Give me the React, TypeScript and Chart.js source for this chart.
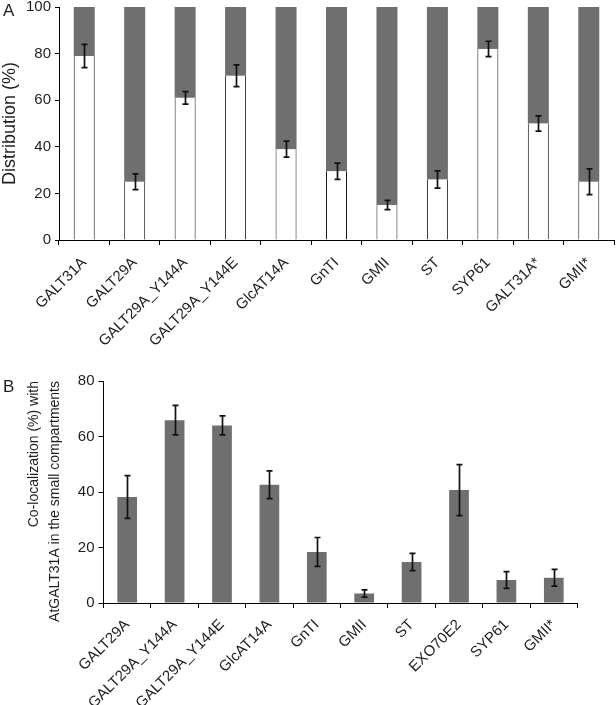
import React, { useEffect, useRef } from 'react';
import { Chart, registerables } from 'chart.js';

Chart.register(...registerables);

// ---------- Panel A data ----------
const catsA = ['GALT31A', 'GALT29A', 'GALT29A_Y144A', 'GALT29A_Y144E', 'GlcAT14A', 'GnTI', 'GMII', 'ST', 'SYP61', 'GALT31A*', 'GMII*'];
const whiteA = [79, 25, 61, 70.5, 39, 29.5, 15, 26, 82, 50, 25];
const grayA = [21, 75, 39, 29.5, 61, 70.5, 85, 74, 18, 50, 75];
const errA = [5, 3.4, 2.7, 4.7, 3.4, 3.5, 2, 3.7, 3.3, 3.3, 5.5];
const yTitleA = 'Distribution (%)';

// ---------- Panel B data ----------
const catsB = ['GALT29A', 'GALT29A_Y144A', 'GALT29A_Y144E', 'GlcAT14A', 'GnTI', 'GMII', 'ST', 'EXO70E2', 'SYP61', 'GMII*'];
const valuesB = [38.2, 65.9, 64, 42.6, 18.4, 3.4, 14.8, 40.7, 8.3, 9.1];
const errB = [7.7, 5.3, 3.4, 5, 5.2, 1.3, 3.1, 9.2, 3, 3];
const yTitleB = ['Co-localization (%) with', 'AtGALT31A in the small compartments'];

const FONT = "'Liberation Sans', Arial, Helvetica, sans-serif";
const GRAY = '#6f6f6f';
const TEXT = '#1e1e1e';

const errorBarPlugin = {
  id: 'errorBars',
  afterDatasetsDraw(chart: any, _args: any, opts: any) {
    const { datasetIndex, values, errors } = opts || {};
    if (!errors) return;
    const meta = chart.getDatasetMeta(datasetIndex);
    const ys = chart.scales.y;
    const ctx = chart.ctx;
    ctx.save();
    ctx.strokeStyle = '#111';
    ctx.lineWidth = 1.7;
    meta.data.forEach((bar: any, i: number) => {
      const v = values[i];
      const e = errors[i];
      const x = Math.round(bar.x) + 0.5;
      const yTop = ys.getPixelForValue(v + e);
      const yBot = ys.getPixelForValue(v - e);
      ctx.beginPath();
      ctx.moveTo(x, yTop);
      ctx.lineTo(x, yBot);
      ctx.moveTo(x - 3, yTop);
      ctx.lineTo(x + 3, yTop);
      ctx.moveTo(x - 3, yBot);
      ctx.lineTo(x + 3, yBot);
      ctx.stroke();
    });
    ctx.restore();
  },
};

function axisX(height: number, fontSize: number, pad: number) {
  return {
    offset: true,
    grid: { display: true, offset: true, drawOnChartArea: false, drawTicks: true, tickLength: 5, color: '#000', lineWidth: 1 },
    border: { display: true, color: '#000', width: 1 },
    ticks: { color: TEXT, font: { family: FONT, size: fontSize }, minRotation: 45, maxRotation: 45, autoSkip: false, padding: pad },
    afterFit(s: any) { s.height = height; },
  };
}

function configA() {
  return {
    type: 'bar',
    data: {
      labels: catsA,
      datasets: [
        { data: whiteA, backgroundColor: '#ffffff', borderColor: '#1a1a1a', borderWidth: { left: 1, right: 1, top: 0, bottom: 0 }, borderSkipped: false, categoryPercentage: 1, barPercentage: 0.416 },
        { data: grayA, backgroundColor: GRAY, borderWidth: 0, categoryPercentage: 1, barPercentage: 0.416 },
      ],
    },
    options: {
      responsive: true,
      maintainAspectRatio: false,
      animation: false,
      layout: { padding: { top: 17, right: 2, left: 0, bottom: 0 } },
      plugins: {
        legend: { display: false },
        tooltip: { enabled: false },
        errorBars: { datasetIndex: 0, values: whiteA, errors: errA },
      },
      scales: {
        x: { ...axisX(110, 15, 9), stacked: true },
        y: {
          stacked: true,
          min: 0,
          max: 100,
          ticks: { stepSize: 20, color: TEXT, font: { family: FONT, size: 15 }, padding: 4 },
          grid: { display: true, drawOnChartArea: false, drawTicks: true, tickLength: 4, color: '#000' },
          border: { display: true, color: '#000', width: 1 },
          title: { display: true, text: yTitleA, color: TEXT, font: { family: FONT, size: 18, lineHeight: 1.1 }, padding: { top: 0, bottom: 0 } },
          afterFit(s: any) { s.width = 59; },
        },
      },
    },
    plugins: [errorBarPlugin],
  };
}

function configB() {
  return {
    type: 'bar',
    data: {
      labels: catsB,
      datasets: [
        { data: valuesB, backgroundColor: GRAY, borderWidth: 0, categoryPercentage: 1, barPercentage: 0.416 },
      ],
    },
    options: {
      responsive: true,
      maintainAspectRatio: false,
      animation: false,
      layout: { padding: { top: 31, right: 38.5, left: 0, bottom: 0 } },
      plugins: {
        legend: { display: false },
        tooltip: { enabled: false },
        errorBars: { datasetIndex: 0, values: valuesB, errors: errB },
      },
      scales: {
        x: axisX(102, 15, 8),
        y: {
          min: 0,
          max: 80,
          ticks: { stepSize: 20, color: TEXT, font: { family: FONT, size: 15 }, padding: 4 },
          grid: { display: true, drawOnChartArea: false, drawTicks: true, tickLength: 5, color: '#000' },
          border: { display: true, color: '#000', width: 1 },
          title: { display: true, text: yTitleB, align: 'end', color: TEXT, font: { family: FONT, size: 14, lineHeight: 1.55 }, padding: { top: 23, bottom: 0 } },
          afterFit(s: any) { s.width = 103.5; },
        },
      },
    },
    plugins: [errorBarPlugin],
  };
}

function ChartBox({ makeConfig, style }: { makeConfig: () => any; style: React.CSSProperties }) {
  const ref = useRef<HTMLCanvasElement>(null);
  useEffect(() => {
    const chart = new Chart(ref.current as HTMLCanvasElement, makeConfig());
    return () => chart.destroy();
  }, []);
  return (
    <div style={{ position: 'absolute', ...style }}>
      <canvas ref={ref} />
    </div>
  );
}

const letterStyle: React.CSSProperties = {
  position: 'absolute',
  fontFamily: FONT,
  fontSize: 17,
  lineHeight: '17px',
  color: TEXT,
};

export default function App() {
  return (
    <div style={{ position: 'fixed', left: 0, top: 0, width: 616, height: 705, background: '#fff', overflow: 'hidden' }}>
      <ChartBox makeConfig={configA} style={{ left: 0, top: -10, width: 616, height: 360 }} />
      <ChartBox makeConfig={configB} style={{ left: 0, top: 350, width: 616, height: 355 }} />
      <div style={{ ...letterStyle, left: 3, top: 2 }}>A</div>
      <div style={{ ...letterStyle, left: 3, top: 378 }}>B</div>
    </div>
  );
}
